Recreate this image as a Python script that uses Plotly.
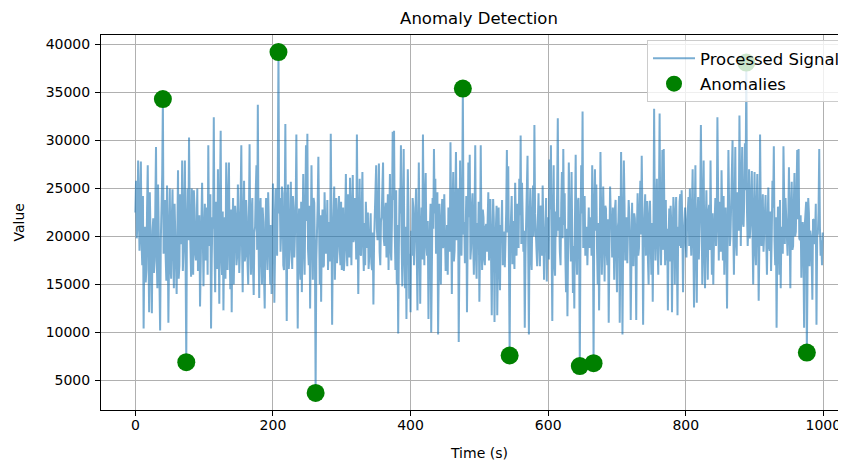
import plotly.graph_objects as go

# ---- data: processed signal in segments (start time, one value per second) ----
seg_000 = [22500, 25800, 19800, 21200, 27900, 20400, 18500, 23600, 27800, 19400, 17000, 24200, 10400, 18600, 21000, 15200, 16500, 22800, 27400, 18800,
           12100, 24600, 19000, 15800, 12000, 20600, 21900, 16200, 17500, 23000, 29300, 17800, 14600, 25400, 20500, 14800, 10200, 19600, 22000, 26400,
           34300, 18200, 20000, 23800, 18000, 15400, 25300, 20800, 11000, 22400, 25000, 17200, 15600, 21800, 24900, 18400, 14600, 23400, 21000, 16800,
           14000, 20200, 26900, 15600, 17000, 24400, 22000, 19200, 27900, 16400, 18500, 22600, 27900, 17400, 6900, 21400]
seg_076 = [25000, 19600, 30300, 22400, 18000, 15800, 25000, 21000, 16000, 24800, 23000, 18200, 17500, 20600, 25000, 16400, 19000, 22200, 12700, 19800,
           21500, 25600, 17000, 14800, 20000, 23400, 17500, 21800, 23000, 16000, 29500, 20400, 19000, 24400, 10400, 17600, 22000, 20800, 32400, 18800,
           14200, 23600, 20500, 16600, 27000, 19400, 13000, 24000, 31000, 17800, 16000, 22600, 12300, 19200, 22000, 15600, 27700, 21200, 16500, 24200,
           27700, 18400, 14500, 22800, 12100, 20000, 24000, 15000, 18000, 23200, 22000, 17000, 18000, 25400, 21500, 16200, 18700, 22400, 29500, 19000,
           14200, 21600, 25800, 17400]
seg_160 = [18000, 23800, 22000, 17200, 15000, 21400, 29600, 19800, 16000, 22600, 24000, 16800, 13900, 20400, 21000, 24800, 27400, 18600, 33700, 20200,
           13600, 22800, 24000, 17600, 15000, 23000, 21500, 15800, 12500, 20600, 24000, 19000, 16500, 24600, 22000, 17400, 15000, 21200, 14000, 19400,
           25500, 22000, 13100, 18200, 25000, 21600, 18000, 26200, 39200, 22400, 24000, 18400, 20500, 25200, 24500, 17000, 16500, 21800, 31700, 19600,
           11200, 23400, 25400, 16600, 18000, 22000, 25700, 18800, 16600, 24200, 23000, 17800, 19500, 22600, 30600, 18000, 10400, 20800, 22900, 16800,
           15500, 23600, 14200, 20400]
seg_244 = [26500, 19200, 16000, 22400, 29500, 21600, 30700, 18600, 17000, 23200, 12500, 19800, 27400, 21000, 15500, 24000, 23500, 18400, 3700, 17600,
           20000, 23400, 28300, 19600, 15000, 22200, 13200, 20400, 22800, 16800, 17000, 24600, 22100, 18200, 19000, 23800, 16500, 20600, 21500, 17400,
           30700, 21800, 10800, 19400, 23000, 25200, 15500, 20200, 24000, 17200, 18500, 22600, 24200, 19000, 17000, 23600, 16500, 21000, 23000, 16400,
           17500, 22200, 26500, 18800, 16900, 24400, 21500, 17800, 26100, 20600, 17000, 22800, 26400, 19400, 19800, 24000, 22000, 17600, 30600, 21200,
           14000, 20800, 26000, 18200]
seg_328 = [18000, 22800, 26700, 19200, 16400, 21400, 17000, 23600, 21700, 18800, 22500, 16600, 18000, 21800, 22400, 17200, 16500, 20400, 12900, 19600,
           22000, 24200, 27400, 20800, 19600, 23200, 27600, 18400, 17000, 21600, 22000, 25000, 27700, 19800, 19000, 22600, 23500, 17800, 21000, 24400,
           16500, 20000, 26500, 18600, 17500, 22000, 30900, 23800, 31000, 20600, 16500, 24800, 15000, 21200, 9900, 18800, 25000, 22400, 29500, 19400,
           14800, 23000, 29100, 17600, 14600, 21000, 11400, 19800, 27000, 22800, 13500, 18200, 12100, 20600, 18000, 24000, 23000, 17000, 19000, 21800,
           25000, 18400, 12300, 20200]
seg_412 = [27700, 20400, 13000, 19800, 23000, 17600, 30600, 22200, 17000, 24000, 26600, 19000, 18000, 21600, 11400, 17800, 21000, 23400, 10000, 18600,
           24000, 20800, 29100, 22400, 26000, 18200, 21900, 24600, 9800, 19200, 23400, 17000, 15000, 22000, 23900, 18800, 19000, 24400, 21600, 16400,
           17500, 21200, 16000, 23000, 22000, 18400, 29800, 20600, 14000, 22600, 26700, 17400, 18500, 23800, 28800, 19600, 20500, 25000, 9000, 18000,
           27900, 21400, 18000, 23600, 35400, 20200, 21500, 17200, 20000, 24200, 12100, 19000, 27700, 22000, 28500, 17600, 18800, 23000, 24500, 19400,
           16000, 21800, 29500, 18000]
seg_496 = [15600, 21400, 19000, 23600, 13200, 18800, 29500, 20200, 16500, 22800, 22000, 17600, 17000, 21000, 21300, 18400, 22000, 24600, 17500, 20800,
           23900, 18000, 11800, 19600, 23900, 21800, 11100, 18600, 21900, 23200, 11800, 19400, 23000, 17400, 14400, 21200, 20600, 23800, 17000, 20000,
           20500, 16800, 19000, 22600, 29000, 20400, 27300, 18200, 7600, 19800, 22900, 24200, 17100, 21600, 18700, 16600, 25600, 21000, 18000, 23400,
           20000, 18800, 26000, 22200, 30500, 19200, 25600, 23000, 18400, 20600, 10500, 18000, 23000, 24400, 28400, 19000, 9800, 21400, 25000, 17800,
           16500, 22400, 25300, 20000]
seg_580 = [31600, 22400, 20000, 18200, 16900, 21600, 24500, 19400, 16900, 23200, 23000, 18000, 25300, 21000, 15500, 19600, 21000, 24000, 15300, 20200,
           22000, 17600, 28000, 22800, 29500, 19000, 11200, 21800, 27400, 17200, 15900, 22600, 20000, 24400, 32300, 20600, 22000, 18400, 17000, 23400,
           26700, 19800, 29100, 21200, 24500, 17800, 14200, 20800, 11700, 19200, 27700, 23000, 19000, 17400, 26700, 21400, 14100, 19000, 12500, 22200,
           28500, 18600, 16000, 23600, 24000, 19600, 6500, 20000, 27400, 22400, 33000, 18800, 22000, 24200, 18000, 21000, 21000, 17000, 20900, 23000,
           18800, 20400, 22000, 18000, 27400, 21600, 6800, 22000]
seg_668 = [27000, 20600, 25400, 18800, 15000, 21400, 12300, 19200, 28800, 22600, 16000, 19800, 25200, 21000, 15300, 23200, 22900, 18400, 17000, 21800,
           11000, 19000, 25200, 22200, 21500, 17800, 23000, 20400, 15500, 22800, 23800, 18200, 14200, 20800, 21500, 24200, 11000, 18600, 28800, 21200,
           9800, 19400, 27900, 23400, 17500, 20000, 22000, 17200, 21700, 23800, 22200, 19600, 11300, 21600, 23500, 17400, 16900, 22400, 21900, 19000,
           11300, 20600, 24500, 18000, 18800, 23000, 25800, 20200, 28400, 22000, 10800, 19800, 22500, 24400, 18000, 21000, 23700, 17600, 15000, 22200,
           23700, 19400, 16000, 21400]
seg_752 = [13200, 20400, 33300, 21800, 17500, 22600, 26000, 19200, 16000, 23400, 32800, 20000, 17000, 22200, 29000, 18600, 29100, 21600, 17000, 23800,
           17500, 20800, 12300, 19600, 22900, 17400, 23200, 21200, 12100, 19800, 24100, 22400, 15000, 20600, 24100, 18200, 11800, 21000, 19000, 23600,
           24400, 18800, 24800, 21400, 14200, 19400, 22000, 23000, 19000, 17800, 21500, 22800, 24100, 19000, 25000, 20200, 18000, 23200, 27000, 19600,
           12600, 21800, 27400, 18400, 13100, 22000, 24100, 17600, 19500, 23400, 31600, 20600, 15000, 22400, 27900, 18000, 14600, 21200, 24800, 19800,
           15500, 22600, 23300, 18600]
seg_836 = [27900, 20800, 16000, 22400, 15000, 19600, 21900, 24000, 19000, 21200, 32400, 20200, 17500, 23600, 20000, 18400, 26900, 21800, 17500, 24200,
           16000, 20400, 23000, 18800, 12500, 21600, 29000, 23200, 19000, 20000, 23000, 25400, 30000, 21000, 16000, 22800, 29300, 19400, 18000, 24600,
           22000, 20600, 32600, 22000, 19000, 25000, 29300, 21400, 21000, 23800, 29700, 24800, 38100, 22600, 19000, 21000, 27000, 19800, 21200, 24400,
           26800, 20400, 15000, 22200, 26700, 18600, 17000, 23400, 26500, 20800, 13300, 19200, 30600, 22600, 19000, 21600, 24400, 18400, 20000, 23000,
           24300, 19600]
seg_918 = [16000, 21400, 25100, 19000, 18500, 22600, 16400, 20200, 25800, 23000, 29400, 19600, 17000, 22000, 10500, 18800, 23100, 20600, 16000, 23800,
           14600, 21000, 20000, 18200, 29400, 22400, 19200, 24000, 22400, 19400, 18000, 21600, 27200, 20800, 14600, 22800, 25700, 18600, 19000, 23200,
           26600, 20000, 20500, 24400, 29000, 21800, 29100, 19800, 19600, 22200, 15700, 20400, 21500, 18400, 10500, 21200, 22000, 23600, 7900, 19000,
           24000, 22400, 16900, 20600, 20000, 17800, 13400, 21800, 21700, 19200, 20300, 23400, 10800, 20000, 20300, 22600, 29100, 21000, 18000, 19600,
           17000, 20400]

segment_starts = [0, 76, 160, 244, 328, 412, 496, 580, 668, 752, 836, 918]
segments = [seg_000, seg_076, seg_160, seg_244, seg_328, seg_412, seg_496,
            seg_580, seg_668, seg_752, seg_836, seg_918]

time_s = []
signal = []
for start, vals in zip(segment_starts, segments):
    for i, v in enumerate(vals):
        time_s.append(start + i)
        signal.append(v)

# anomalies (times at which the detector flagged the signal)
anomaly_time = [40, 74, 208, 262, 476, 544, 646, 666, 888, 976]
lookup = dict(zip(time_s, signal))
anomaly_value = [lookup[t] for t in anomaly_time]

x_ticks = [0, 200, 400, 600, 800, 1000]
y_ticks = [5000, 10000, 15000, 20000, 25000, 30000, 35000, 40000]

# ---- figure ----
# (the page body has an 8 px margin, so the figure is 8 px smaller and shifted)
fig = go.Figure()
fig.add_trace(go.Scatter(
    x=time_s, y=signal, mode="lines", name="Processed Signal",
    line=dict(color="rgba(31,119,180,0.6)", width=2),
    legendgroup="a",
))
fig.add_trace(go.Scatter(
    x=anomaly_time, y=anomaly_value, mode="markers", name="Anomalies",
    marker=dict(color="#008000", size=18, line=dict(width=0)),
    legendgroup="b",
))

font_family = "DejaVu Sans"
axis_common = dict(
    showgrid=True, gridcolor="#b0b0b0", gridwidth=1,
    zeroline=False, showline=True, linecolor="black", linewidth=1,
    ticks="outside", ticklen=5, tickwidth=1, tickcolor="black",
    tickfont=dict(family=font_family, size=14, color="black"),
)

W, H = 838, 457
fig.update_layout(
    width=W, height=H,
    margin=dict(l=93, r=0, t=27, b=55, pad=0),
    paper_bgcolor="white", plot_bgcolor="white",
    font=dict(family=font_family, size=14, color="black"),
    title=dict(text="Anomaly Detection", x=471 / W, xanchor="center",
               y=1 - 10 / H, yanchor="middle",
               font=dict(family=font_family, size=16.5, color="black")),
    xaxis=dict(range=[-49.95, 1032.9], tickvals=x_ticks, mirror=True,
               ticklabelstandoff=-3, **axis_common),
    yaxis=dict(range=[1925, 40975], tickvals=y_ticks, tickformat="d",
               ticklabelstandoff=2, **axis_common),
    legend=dict(x=1.0, y=(410 - 40) / 375, xanchor="right", yanchor="top",
                bgcolor="rgba(255,255,255,0.8)", bordercolor="#cccccc", borderwidth=1,
                font=dict(family=font_family, size=16.5, color="black"),
                itemwidth=42, tracegroupgap=1),
    annotations=[
        dict(text="Time (s)", xref="paper", yref="paper", x=(479 - 101) / 745, y=(410 - 453) / 375,
             xanchor="center", yanchor="middle", showarrow=False,
             font=dict(family=font_family, size=14, color="black")),
        dict(text="Value", xref="paper", yref="paper", x=(18 - 101) / 745, y=0.5,
             xanchor="center", yanchor="middle", showarrow=False, textangle=-90,
             font=dict(family=font_family, size=14, color="black")),
    ],
)

fig.write_html("out.html")
